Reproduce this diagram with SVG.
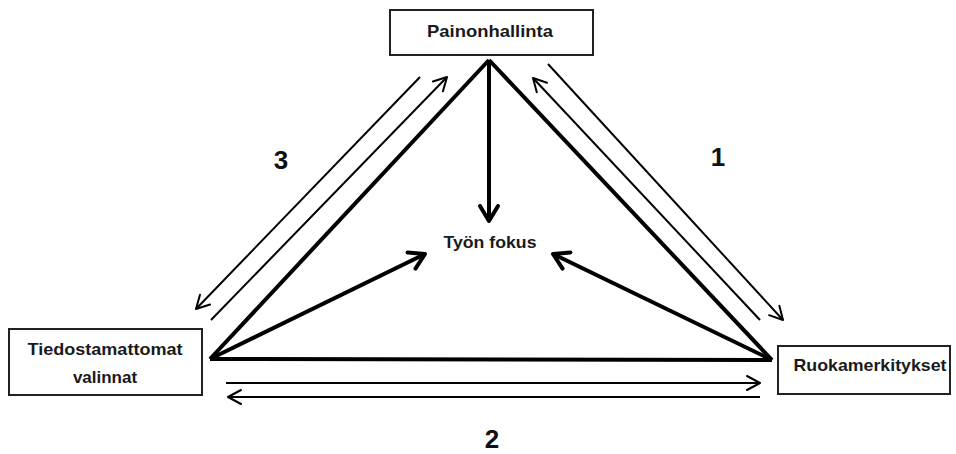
<svg xmlns="http://www.w3.org/2000/svg" width="956" height="454" viewBox="0 0 956 454">
<style>
.box{fill:#fff;stroke:#222;stroke-width:2}
.lbl{font-family:"Liberation Sans",Arial,sans-serif;font-weight:bold;font-size:17px;fill:#1a1a1a;text-anchor:middle}
.num{font-family:"Liberation Sans",Arial,sans-serif;font-weight:bold;font-size:26px;fill:#111;text-anchor:middle}
.thick{stroke:#000;stroke-width:4;fill:none}
.thin{stroke:#000;stroke-width:2;fill:none}
</style>
<defs>
<marker id="ahb" viewBox="-20 -14 24 28" refX="0" refY="0" markerWidth="24" markerHeight="28" orient="auto" markerUnits="userSpaceOnUse">
<path d="M-15,-9 L0,0 L-15,9" fill="none" stroke="#000" stroke-width="4" stroke-linejoin="round" stroke-linecap="round"/>
</marker>
<marker id="aht" viewBox="-16 -10 18 20" refX="0" refY="0" markerWidth="18" markerHeight="20" orient="auto" markerUnits="userSpaceOnUse">
<path d="M-13,-7 L0,0 L-13,7" fill="none" stroke="#000" stroke-width="2" stroke-linejoin="round" stroke-linecap="round"/>
</marker>
</defs>
<rect width="956" height="454" fill="#fff"/>
<g id="connectors">
<line class="thick" x1="489" y1="60" x2="210" y2="359"/>
<line class="thick" x1="489" y1="60" x2="772" y2="360"/>
<line class="thick" x1="210" y1="359" x2="772" y2="360"/>
<line class="thick" x1="489" y1="60" x2="489" y2="221" marker-end="url(#ahb)"/>
<line class="thick" x1="210" y1="359" x2="425" y2="254" marker-end="url(#ahb)"/>
<line class="thick" x1="772" y1="360" x2="553" y2="254" marker-end="url(#ahb)"/>
<line class="thin" x1="420" y1="77" x2="196" y2="309" marker-end="url(#aht)"/>
<line class="thin" x1="211" y1="320" x2="447" y2="77" marker-end="url(#aht)"/>
<line class="thin" x1="548" y1="64" x2="783" y2="320" marker-end="url(#aht)"/>
<line class="thin" x1="760" y1="320" x2="533" y2="78" marker-end="url(#aht)"/>
<line class="thin" x1="226" y1="383" x2="760" y2="383" marker-end="url(#aht)"/>
<line class="thin" x1="760" y1="397" x2="228" y2="397" marker-end="url(#aht)"/>
</g>
<g id="node-painonhallinta">
<rect class="box" x="390" y="10" width="203" height="45"/>
<text class="lbl" x="490" y="37" textLength="126" lengthAdjust="spacingAndGlyphs">Painonhallinta</text>
</g>
<g id="node-tiedostamattomat">
<rect class="box" x="9" y="329" width="193" height="66"/>
<text class="lbl" x="105" y="355" textLength="155" lengthAdjust="spacingAndGlyphs">Tiedostamattomat</text>
<text class="lbl" x="105" y="383">valinnat</text>
</g>
<g id="node-ruokamerkitykset">
<rect class="box" x="778" y="346" width="172" height="48"/>
<text class="lbl" x="870" y="371" textLength="153" lengthAdjust="spacingAndGlyphs">Ruokamerkitykset</text>
</g>
<g id="node-tyon-fokus">
<text class="lbl" x="490" y="248" textLength="93" lengthAdjust="spacingAndGlyphs">Työn fokus</text>
</g>
<g id="labels">
<text class="num" x="281" y="169">3</text>
<text class="num" x="718" y="166">1</text>
<text class="num" x="492" y="448">2</text>
</g>
</svg>
